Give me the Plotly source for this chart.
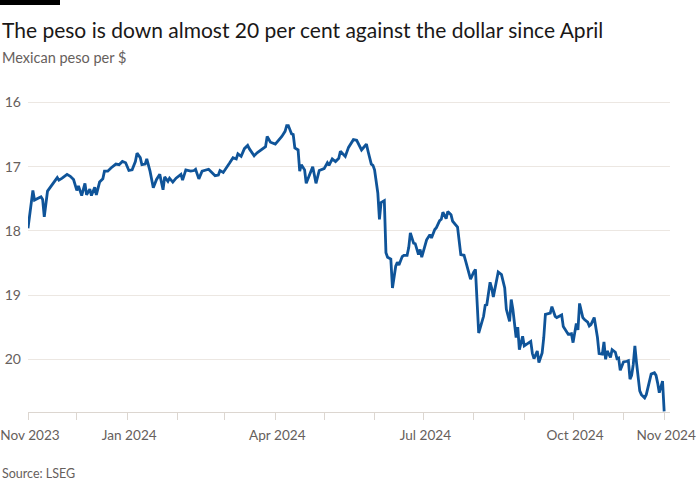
import plotly.graph_objects as go

dates = [
    "2023-11-01", "2023-11-04", "2023-11-05", "2023-11-07", "2023-11-09", "2023-11-10", "2023-11-11",
    "2023-11-13", "2023-11-16", "2023-11-19", "2023-11-20", "2023-11-22", "2023-11-25", "2023-11-27",
    "2023-11-29", "2023-12-01", "2023-12-02", "2023-12-04", "2023-12-06", "2023-12-07", "2023-12-09",
    "2023-12-10", "2023-12-12", "2023-12-13", "2023-12-15", "2023-12-17", "2023-12-18", "2023-12-20",
    "2023-12-22", "2023-12-25", "2023-12-27", "2023-12-29", "2023-12-31", "2024-01-02", "2024-01-04",
    "2024-01-06", "2024-01-07", "2024-01-09", "2024-01-10", "2024-01-12", "2024-01-13", "2024-01-15",
    "2024-01-17", "2024-01-19", "2024-01-21", "2024-01-23", "2024-01-24", "2024-01-26", "2024-01-27",
    "2024-01-29", "2024-01-31", "2024-02-03", "2024-02-04", "2024-02-06", "2024-02-09", "2024-02-11",
    "2024-02-12", "2024-02-14", "2024-02-16", "2024-02-18", "2024-02-20", "2024-02-22", "2024-02-24",
    "2024-02-26", "2024-02-27", "2024-02-29", "2024-03-02", "2024-03-04", "2024-03-06", "2024-03-08",
    "2024-03-09", "2024-03-11", "2024-03-13", "2024-03-15", "2024-03-16", "2024-03-19", "2024-03-21",
    "2024-03-23", "2024-03-26", "2024-03-27", "2024-03-29", "2024-04-01", "2024-04-03", "2024-04-05",
    "2024-04-07", "2024-04-08", "2024-04-09", "2024-04-11", "2024-04-12", "2024-04-13", "2024-04-15",
    "2024-04-16", "2024-04-17", "2024-04-19", "2024-04-20", "2024-04-22", "2024-04-24", "2024-04-26",
    "2024-04-28", "2024-05-01", "2024-05-03", "2024-05-04", "2024-05-06", "2024-05-08", "2024-05-10",
    "2024-05-11", "2024-05-14", "2024-05-16", "2024-05-19", "2024-05-21", "2024-05-24", "2024-05-25",
    "2024-05-27", "2024-05-28", "2024-05-30", "2024-05-31", "2024-06-01", "2024-06-03", "2024-06-04",
    "2024-06-05", "2024-06-07", "2024-06-08", "2024-06-09", "2024-06-11", "2024-06-12", "2024-06-14",
    "2024-06-15", "2024-06-16", "2024-06-18", "2024-06-19", "2024-06-21", "2024-06-22", "2024-06-23",
    "2024-06-25", "2024-06-26", "2024-06-28", "2024-06-29", "2024-06-30", "2024-07-02", "2024-07-03",
    "2024-07-05", "2024-07-06", "2024-07-08", "2024-07-09", "2024-07-11", "2024-07-12", "2024-07-13",
    "2024-07-15", "2024-07-16", "2024-07-18", "2024-07-19", "2024-07-21", "2024-07-22", "2024-07-24",
    "2024-07-26", "2024-07-27", "2024-07-29", "2024-07-30", "2024-08-01", "2024-08-02", "2024-08-04",
    "2024-08-07", "2024-08-08", "2024-08-09", "2024-08-11", "2024-08-12", "2024-08-13", "2024-08-15",
    "2024-08-16", "2024-08-18", "2024-08-20", "2024-08-21", "2024-08-23", "2024-08-24", "2024-08-25",
    "2024-08-27", "2024-08-28", "2024-08-29", "2024-08-31", "2024-09-01", "2024-09-03", "2024-09-05",
    "2024-09-06", "2024-09-07", "2024-09-09", "2024-09-10", "2024-09-12", "2024-09-13", "2024-09-14",
    "2024-09-16", "2024-09-17", "2024-09-18", "2024-09-20", "2024-09-21", "2024-09-24", "2024-09-25",
    "2024-09-27", "2024-09-28", "2024-09-30", "2024-10-01", "2024-10-03", "2024-10-04", "2024-10-05",
    "2024-10-07", "2024-10-08", "2024-10-10", "2024-10-11", "2024-10-12", "2024-10-14", "2024-10-16",
    "2024-10-17", "2024-10-19", "2024-10-20", "2024-10-21", "2024-10-22", "2024-10-24", "2024-10-25",
    "2024-10-27", "2024-10-28", "2024-10-29", "2024-10-30", "2024-11-01", "2024-11-03", "2024-11-04",
    "2024-11-05", "2024-11-06", "2024-11-07", "2024-11-08", "2024-11-09", "2024-11-11", "2024-11-12",
    "2024-11-14", "2024-11-15", "2024-11-17", "2024-11-18", "2024-11-20", "2024-11-21", "2024-11-22",
    "2024-11-23", "2024-11-25", "2024-11-26",
]

peso_per_usd = [
    17.96, 17.37, 17.52, 17.49, 17.47, 17.51, 17.78,
    17.38, 17.28, 17.17, 17.21, 17.18, 17.12, 17.15,
    17.20, 17.37, 17.30, 17.45, 17.26, 17.44, 17.35,
    17.45, 17.32, 17.44, 17.24, 17.19, 17.07, 17.07,
    17.02, 16.96, 16.97, 16.92, 16.94, 17.06, 17.05,
    16.92, 16.79, 16.86, 16.97, 16.96, 16.88, 17.07,
    17.33, 17.20, 17.12, 17.36, 17.16, 17.23, 17.18,
    17.24, 17.18, 17.12, 17.21, 17.05, 17.07, 17.06,
    17.04, 17.19, 17.07, 17.06, 17.04, 17.09, 17.14,
    17.13, 17.06, 17.09, 17.02, 16.94, 16.86, 16.88,
    16.80, 16.84, 16.72, 16.67, 16.72, 16.83, 16.78,
    16.74, 16.69, 16.53, 16.62, 16.65, 16.59, 16.53,
    16.45, 16.36, 16.36, 16.49, 16.50, 16.71, 16.74,
    17.07, 16.97, 17.05, 17.26, 17.12, 17.00, 17.26,
    17.06, 17.03, 16.94, 16.98, 16.88, 16.92, 16.87,
    16.76, 16.84, 16.70, 16.58, 16.59, 16.74, 16.71,
    16.65, 16.76, 16.96, 16.98, 17.05, 17.41, 17.82,
    17.56, 17.53, 18.34, 18.41, 18.44, 18.89, 18.55,
    18.49, 18.53, 18.40, 18.38, 18.38, 18.26, 18.03,
    18.19, 18.20, 18.37, 18.29, 18.41, 18.23, 18.14,
    18.06, 18.11, 17.98, 17.95, 17.84, 17.82, 17.71,
    17.81, 17.70, 17.75, 17.85, 17.92, 17.94, 18.37,
    18.38, 18.47, 18.65, 18.75, 18.64, 18.60, 19.59,
    19.33, 19.16, 19.15, 18.80, 18.89, 19.03, 18.77,
    18.64, 18.68, 18.89, 19.22, 19.41, 19.07, 19.22,
    19.66, 19.50, 19.85, 19.64, 19.79, 19.75, 19.72,
    19.91, 19.99, 19.87, 20.05, 19.90, 19.66, 19.30,
    19.28, 19.28, 19.18, 19.33, 19.35, 19.31, 19.49,
    19.58, 19.61, 19.60, 19.74, 19.44, 19.54, 19.13,
    19.35, 19.38, 19.42, 19.48, 19.46, 19.35, 19.66,
    19.91, 19.92, 19.73, 20.00, 19.87, 19.97, 19.85,
    19.89, 19.99, 19.98, 20.17, 20.04, 20.03, 20.02,
    20.31, 20.25, 20.08, 19.79, 20.05, 20.49, 20.55,
    20.60, 20.55, 20.34, 20.23, 20.21, 20.25, 20.37,
    20.52, 20.34, 20.81,
]

x_tick_dates = [
    "2023-11-01", "2023-12-01", "2024-01-01", "2024-02-01", "2024-03-01", "2024-04-01",
    "2024-05-01", "2024-06-01", "2024-07-01", "2024-08-01", "2024-09-01", "2024-10-01",
    "2024-11-01", "2024-11-26",
]
x_tick_labels = [
    "Nov 2023", "", "Jan 2024", "", "", "Apr 2024",
    "", "", "Jul 2024", "", "", "Oct 2024",
    "", "Nov 2024",
]
y_ticks = [16, 17, 18, 19, 20]

FONT = "Lato"
GREY = "#66605c"
GRID = "#ece7e2"

# plot area in pixels: left 28, right 670, top 96, bottom 412
L, R, T, B = 28, 30, 96, 88
W, H = 700, 500
pw, ph = W - L - R, H - T - B


def px(x):
    return (x - L) / pw


def py(y):
    return (H - B - y) / ph


fig = go.Figure()
fig.add_trace(go.Scatter(
    x=dates, y=peso_per_usd, mode="lines",
    line=dict(color="#0f5499", width=2.8),
    hoverinfo="x+y", showlegend=False, cliponaxis=False,
))

fig.update_layout(
    width=W, height=H,
    margin=dict(l=L, r=R, t=T, b=B, autoexpand=False),
    paper_bgcolor="white", plot_bgcolor="white",
    font=dict(family=FONT, color=GREY, size=14),
    xaxis=dict(
        type="date", automargin=False,
        range=["2023-11-01", "2024-11-29 14:00"],
        tickvals=x_tick_dates, ticktext=x_tick_labels,
        ticks="outside", ticklen=7, tickcolor="#dcd6d0", tickwidth=1,
        showline=True, linecolor="#dcd6d0", linewidth=1,
        showgrid=False, zeroline=False,
        tickfont=dict(family=FONT, size=13.6, color=GREY),
        ticklabelstandoff=4, ticklabelshift=2, ticklabeloverflow="allow",
    ),
    yaxis=dict(
        automargin=False,
        range=[20.82, 15.9],
        tickvals=y_ticks,
        showgrid=True, gridcolor=GRID, gridwidth=1,
        zeroline=False, showline=False, ticks="",
        tickfont=dict(family=FONT, size=14, color=GREY),
        ticklabelstandoff=6, ticklabeloverflow="allow",
    ),
    annotations=[
        dict(text="The peso is down almost 20 per cent against the dollar since April",
             xref="paper", yref="paper", x=px(0), y=py(29), xanchor="left", yanchor="middle",
             showarrow=False, font=dict(family=FONT, size=21, color="#1a1817")),
        dict(text="Mexican peso per $",
             xref="paper", yref="paper", x=px(0), y=py(57), xanchor="left", yanchor="middle",
             showarrow=False, font=dict(family=FONT, size=14.5, color=GREY)),
        dict(text="Source: LSEG",
             xref="paper", yref="paper", x=px(0), y=py(473), xanchor="left", yanchor="middle",
             showarrow=False, font=dict(family=FONT, size=12.5, color=GREY)),
    ],
    shapes=[
        dict(type="rect", xref="paper", yref="paper",
             x0=px(0), x1=px(60), y0=py(5), y1=py(0),
             fillcolor="black", line=dict(width=0), layer="above"),
    ],
)

fig.write_html("out.html", config={"displayModeBar": False},
               post_script="document.body.style.margin='0';")
